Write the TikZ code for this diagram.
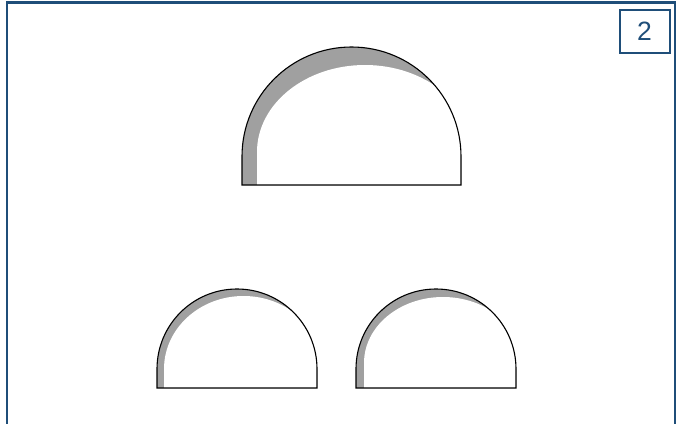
\documentclass[tikz,border=0pt]{standalone}
\usepackage{fontspec}
\setmainfont{Liberation Sans}
\definecolor{framblue}{RGB}{31,78,121}
\definecolor{shadegray}{RGB}{160,160,160}

\begin{document}
\begin{tikzpicture}[x=1pt,y=-1pt]
  \useasboundingbox (0,0) rectangle (680,423);
  % frame
  \draw[framblue,line width=2.5pt] (7,425)--(7,2.5)--(675,2.5)--(675,425);
  \node[draw=framblue,line width=2pt,minimum width=50pt,minimum height=43pt,
        inner sep=0pt,text=framblue,font=\fontsize{26.5}{26.5}\selectfont] (num) at (644.5,31.5) {2};
  % arches: cx/rx/base/wall/inner cx/inner rx/inner wall/inner ry
  \foreach \cx/\rx/\by/\wy/\icx/\irx/\iwy/\iry in
      {351.5/109.5/185/156.5/365/108/152/87,
       237/80/388/369/243.5/79.5/369/73,
       436/80/388/369/443/79/363/66}{
    \fill[shadegray] (\cx-\rx,\by)--(\cx-\rx,\wy)
      arc[start angle=180,end angle=360,radius=\rx]--(\cx+\rx,\by)--cycle;
    \begin{scope}
      \clip (\cx-\rx,\by)--(\cx-\rx,\wy)
        arc[start angle=180,end angle=360,radius=\rx]--(\cx+\rx,\by)--cycle;
      \fill[white] (\icx-\irx,\by)--(\icx-\irx,\iwy)
        arc[start angle=180,end angle=360,x radius=\irx,y radius=\iry]--(\icx+\irx,\by)--cycle;
    \end{scope}
    \draw[line width=1.1pt] (\cx-\rx,\by)--(\cx-\rx,\wy)
      arc[start angle=180,end angle=360,radius=\rx]--(\cx+\rx,\by)--cycle;
  }
\end{tikzpicture}
\end{document}
